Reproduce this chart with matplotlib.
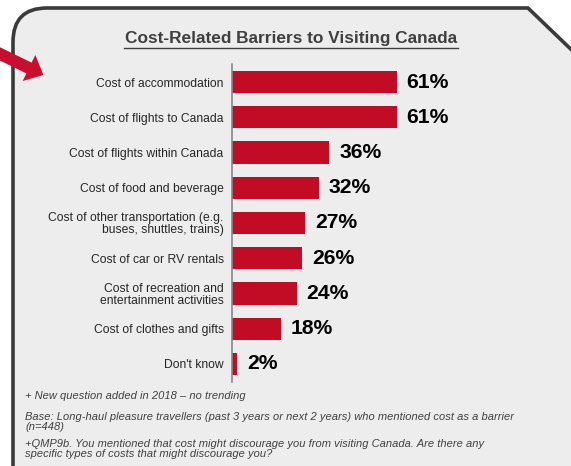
import matplotlib.pyplot as plt
from matplotlib.path import Path
from matplotlib.patches import PathPatch, FancyArrow

plt.rcParams['font.family'] = ['Liberation Sans', 'DejaVu Sans']

categories = ['Cost of accommodation', 'Cost of flights to Canada',
              'Cost of flights within Canada', 'Cost of food and beverage',
              'Cost of other transportation (e.g.\nbuses, shuttles, trains)',
              'Cost of car or RV rentals',
              'Cost of recreation and\nentertainment activities',
              'Cost of clothes and gifts', "Don't know"]
values = [61, 61, 36, 32, 27, 26, 24, 18, 2]

title = 'Cost-Related Barriers to Visiting Canada'
notes = ['+ New question added in 2018 \u2013 no trending',
         'Base: Long-haul pleasure travellers (past 3 years or next 2 years) who mentioned cost as a barrier\n(n=448)',
         '+QMP9b. You mentioned that cost might discourage you from visiting Canada. Are there any\nspecific types of costs that might discourage you?']

W, H = 571, 466
fig = plt.figure(figsize=(W / 100, H / 100), dpi=100)
fig.patch.set_facecolor('white')

# background panel in pixel coordinates
bg = fig.add_axes([0, 0, 1, 1])
bg.set_xlim(0, W)
bg.set_ylim(H, 0)
bg.axis('off')
verts = [(13, 480), (13, 42), (13, 8), (47, 8), (528, 8), (580, 58), (580, 480), (13, 480)]
codes = [Path.MOVETO, Path.LINETO, Path.CURVE3, Path.CURVE3, Path.LINETO,
         Path.LINETO, Path.LINETO, Path.CLOSEPOLY]
bg.add_patch(PathPatch(Path(verts, codes), facecolor='#ededed', edgecolor='#3a3a3a', lw=2.6))
bg.add_patch(FancyArrow(-6, 51, 35, 17, width=12, head_width=29, head_length=16,
                        length_includes_head=False, color='#c8102e', lw=0))

bg.text(291, 38, title, ha='center', va='center', fontsize=12.4, fontweight='bold',
        color='#3f3f3f')
bg.plot([124, 458], [48, 48], color='#3f3f3f', lw=1)

bg.text(25, 396, notes[0], ha='left', va='center', fontsize=8, style='italic', color='#404040')
bg.text(25, 422, notes[1], ha='left', va='center', fontsize=8, style='italic', color='#404040',
        linespacing=1.0)
bg.text(25, 449, notes[2], ha='left', va='center', fontsize=8, style='italic', color='#404040',
        linespacing=1.0)

# bar chart
x0, x1 = 232, 545
top, bottom = 64.4, 381.6
ax = fig.add_axes([x0 / W, 1 - bottom / H, (x1 - x0) / W, (bottom - top) / H])
ax.patch.set_alpha(0)
pos = list(range(len(categories)))
ax.barh(pos, values, height=0.63, color='#c20c25')
ax.set_xlim(0, (x1 - x0) / 2.705)
ax.set_ylim(len(categories) - 0.5, -0.5)
ax.set_yticks(pos)
ax.set_yticklabels(categories, fontsize=8.7, color='#262626', linespacing=0.95)
ax.tick_params(axis='y', length=0, pad=6)
ax.set_xticks([])
for s in ['top', 'right', 'bottom']:
    ax.spines[s].set_visible(False)
ax.spines['left'].set_color('#888888')
ax.spines['left'].set_linewidth(1.2)
for p, v in zip(pos, values):
    ax.text(v + 3.6, p, f'{v}%', ha='left', va='center', fontsize=15.2,
            fontweight='bold', color='black')

fig.savefig('out.png', dpi=100)
